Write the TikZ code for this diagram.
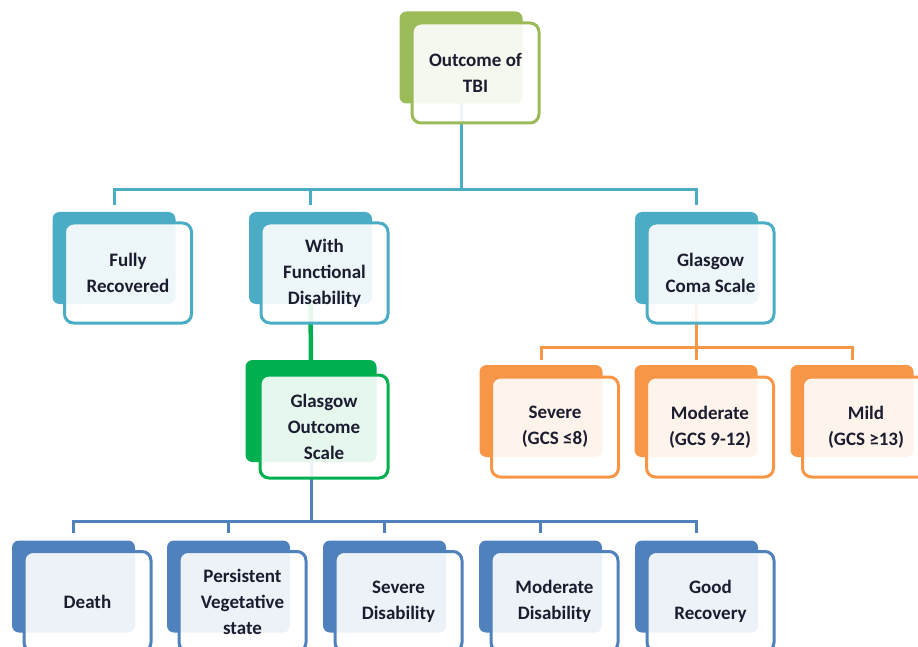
\documentclass[tikz,border=0pt]{standalone}
\usepackage{fontspec}
\setmainfont{Carlito}
\usetikzlibrary{backgrounds}

\definecolor{cgreen}{HTML}{9BBB59}
\definecolor{cteal}{HTML}{4BACC6}
\definecolor{cgos}{HTML}{00B050}
\definecolor{corange}{HTML}{F79646}
\definecolor{cblue}{HTML}{4F81BD}
\definecolor{ctext}{HTML}{1C1C30}

\tikzset{
  backbox/.style={rectangle, rounded corners=7pt, fill=#1, draw=none,
    minimum width=123pt, minimum height=92pt, inner sep=0pt},
  frontbox/.style={rectangle, rounded corners=9pt, draw=#1, line width=3pt,
    fill=white, fill opacity=0.9, text opacity=1, draw opacity=1,
    minimum width=127pt, minimum height=100pt, inner sep=0pt,
    align=center, text=ctext, font=\fontsize{19}{26}\selectfont\bfseries},
  link/.style={draw=#1, line width=3pt},
}

\begin{document}
\begin{tikzpicture}[x=1pt, y=-1pt]
\useasboundingbox (0,0) rectangle (918,647);

% root
\node[backbox=cgreen] (topb) at (461,57.5) {};
\node[frontbox=cgreen] (top) at (475.5,73) {Outcome of\\TBI};

% second level
\node[backbox=cteal] (frb) at (114,258) {};
\node[frontbox=cteal] (fr) at (128,273) {Fully\\Recovered};
\node[backbox=cteal] (wfdb) at (310.5,258) {};
\node[frontbox=cteal] (wfd) at (324.5,273) {With\\Functional\\Disability};
\node[backbox=cteal] (gcsb) at (696.5,258) {};
\node[frontbox=cteal] (gcs) at (710.5,273) {Glasgow\\Coma Scale};

% Glasgow Outcome Scale
\node[backbox=cgos, minimum width=131pt, minimum height=102pt] (gosb) at (311,411) {};
\node[frontbox=cgos, minimum width=128pt, minimum height=103pt] (gos) at (324,426.5) {Glasgow\\Outcome\\Scale};

% coma scale grades
\node[backbox=corange] (sevb) at (541,411) {};
\node[frontbox=corange] (sev) at (555,427) {Severe\\(GCS ≤8)};
\node[backbox=corange] (modb) at (696,411) {};
\node[frontbox=corange] (mod) at (710,427) {Moderate\\(GCS 9-12)};
\node[backbox=corange] (mildb) at (852,411) {};
\node[frontbox=corange] (mild) at (866,427) {Mild\\(GCS ≥13)};

% outcome scale grades
\node[backbox=cblue] (d1b) at (73.5,586.5) {};
\node[frontbox=cblue] (d1) at (87.5,601.5) {Death};
\node[backbox=cblue] (d2b) at (228.5,586.5) {};
\node[frontbox=cblue] (d2) at (242.5,601.5) {Persistent\\Vegetative\\state};
\node[backbox=cblue] (d3b) at (384.5,586.5) {};
\node[frontbox=cblue] (d3) at (398.5,601.5) {Severe\\Disability};
\node[backbox=cblue] (d4b) at (540.5,586.5) {};
\node[frontbox=cblue] (d4) at (554.5,601.5) {Moderate\\Disability};
\node[backbox=cblue] (d5b) at (696.5,586.5) {};
\node[frontbox=cblue] (d5) at (710.5,601.5) {Good\\Recovery};

% connectors
\coordinate (hub1) at (461,190);
\coordinate (hub2) at (696.5,347);
\coordinate (hub3) at (311,521);
\begin{scope}[on background layer]
  \draw[link=cteal] (topb.center) -- (hub1);
  \foreach \n in {frb, wfdb, gcsb}
    \draw[link=cteal] (hub1) -| ([yshift=7pt]\n.north);
  \draw[link=cgos, line width=4.5pt] (wfdb.center) -- (gosb.center);
  \draw[link=corange] (gcsb.center) -- (hub2);
  \foreach \n in {sevb, modb, mildb}
    \draw[link=corange] (hub2) -| ([yshift=5pt]\n.north);
  \draw[link=cblue] (gosb.center) -- (hub3);
  \foreach \n in {d1b, d2b, d3b, d4b, d5b}
    \draw[link=cblue] (hub3) -| ([yshift=7pt]\n.north);
\end{scope}
\end{tikzpicture}
\end{document}
